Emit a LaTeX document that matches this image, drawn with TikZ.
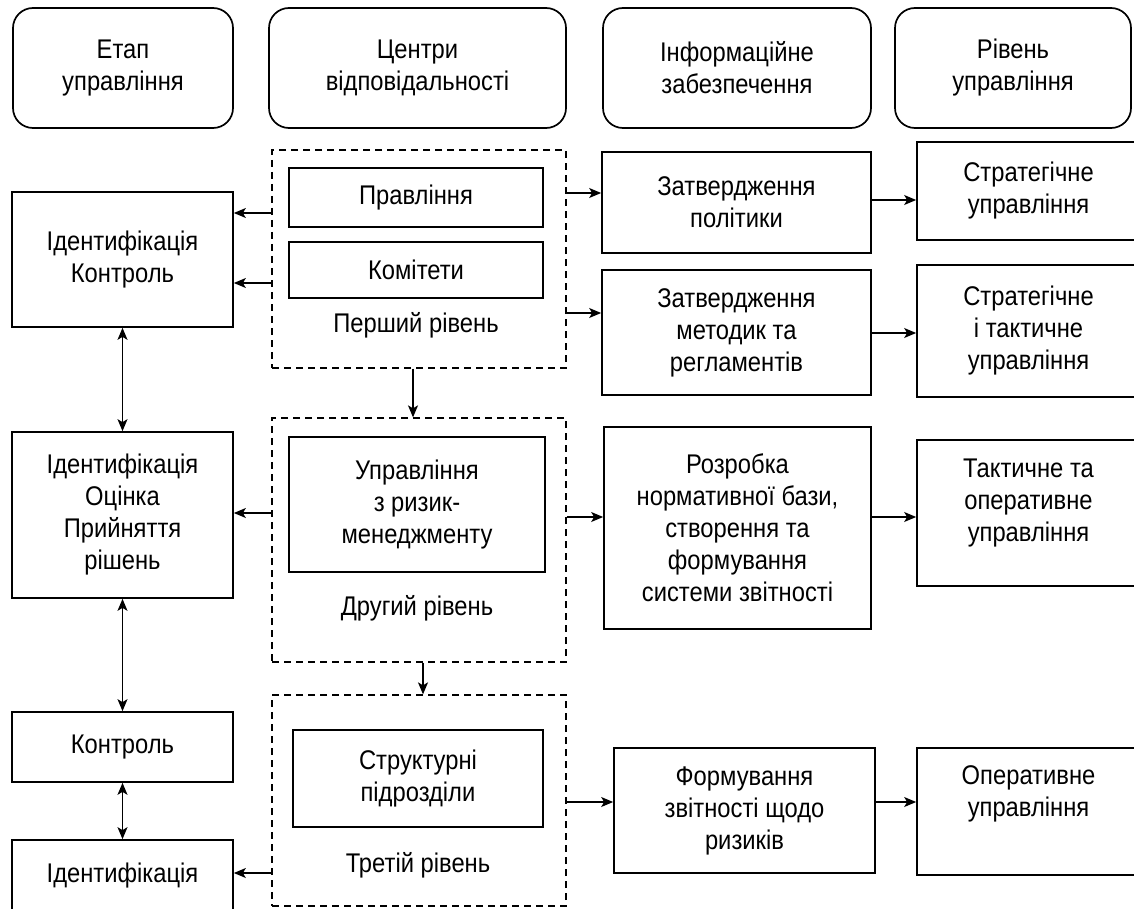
\documentclass[tikz,border=0pt]{standalone}
\usepackage{fontspec}
\setmainfont{Liberation Sans}[FakeStretch=0.88]
\usetikzlibrary{arrows.meta}
\begin{document}
\begin{tikzpicture}[x=1pt,y=-1pt,
  every node/.style={font=\fontsize{27}{32}\selectfont, align=center, inner sep=0pt},
  hdr/.style={draw, line width=1.7pt, rounded corners=20pt},
  box/.style={draw, line width=1.7pt},
  grp/.style={draw, line width=1.3pt, dash pattern=on 7pt off 5pt},
  txt/.style={},
  arr/.style={-{Stealth[length=12pt,width=10pt,inset=3pt]}, line width=1.3pt},
  darr/.style={{Stealth[length=12pt,width=10pt,inset=3pt]}-{Stealth[length=12pt,width=10pt,inset=3pt]}, line width=1.3pt},
]
\useasboundingbox (0,0) rectangle (1134,909);
\fill[white] (0,0) rectangle (1134,909);
\clip (0,0) rectangle (1134,909);

% header
\node[hdr, minimum width=220pt, minimum height=120pt] (h1) at (123,68) {Етап\\управління};
\node[hdr, minimum width=297pt, minimum height=120pt] (h2) at (417.5,68) {Центри\\відповідальності};
\node[hdr, minimum width=268pt, minimum height=120pt] (h3) at (737,68) {Інформаційне\\забезпечення};
\node[hdr, minimum width=236pt, minimum height=120pt] (h4) at (1013,68) {Рівень\\управління};

% left column
\node[box, minimum width=221pt, minimum height=135pt] (l1) at (122.5,259.5) {Ідентифікація\\Контроль};
\node[box, minimum width=221pt, minimum height=166pt] (l2) at (122.5,515) {Ідентифікація\\Оцінка\\Прийняття\\рішень};
\node[box, minimum width=221pt, minimum height=70pt] (l3) at (122.5,747) {Контроль};
\node[box, minimum width=221pt, minimum height=72pt] (l4) at (122.5,876) {Ідентифікація};

% middle column
\node[grp, minimum width=294pt, minimum height=218pt] (d1) at (419,259) {};
\node[box, minimum width=254pt, minimum height=59pt] (p) at (416,197.5) {Правління};
\node[box, minimum width=254pt, minimum height=56pt] (k) at (416,270) {Комітети};
\node[txt] (t1) at (416,325) {Перший рівень};

\node[grp, minimum width=294pt, minimum height=244pt] (d2) at (419,540) {};
\node[box, minimum width=256pt, minimum height=135pt] (u) at (417,504.5) {Управління\\з ризик-\\менеджменту};
\node[txt] (t2) at (417,608) {Другий рівень};

\node[grp, minimum width=294pt, minimum height=211pt] (d3) at (419,800.5) {};
\node[box, minimum width=250pt, minimum height=97pt] (s) at (418,778.5) {Структурні\\підрозділи};
\node[txt] (t3) at (418,865) {Третій рівень};

% right column 1
\node[box, minimum width=269pt, minimum height=101pt] (ra1) at (736.5,202.5) {Затвердження\\політики};
\node[box, minimum width=269pt, minimum height=125pt] (ra2) at (736.5,332.5) {Затвердження\\методик та\\регламентів};
\node[box, minimum width=267pt, minimum height=202pt] (ra3) at (737.5,528) {Розробка\\нормативної бази,\\створення та\\формування\\системи звітності};
\node[box, minimum width=261pt, minimum height=125pt] (ra4) at (744.5,810.5) {Формування\\звітності щодо\\ризиків};

% right column 2
\node[box, minimum width=223pt, minimum height=98pt] (rb1) at (1028.5,191) {Стратегічне\\управління};
\node[box, minimum width=223pt, minimum height=132pt] (rb2) at (1028.5,331) {Стратегічне\\і тактичне\\управління};
\node[box, minimum width=223pt, minimum height=146pt] (rb3) at (1028.5,513) {};
\node[txt] (rb3t) at (1028.5,503) {Тактичне та\\оперативне\\управління};
\node[box, minimum width=223pt, minimum height=127pt] (rb4) at (1028.5,811.5) {};
\node[txt] (rb4t) at (1028.5,794) {Оперативне\\управління};

% helper coordinates for connector heights
\coordinate (y193) at (0,193);
\coordinate (y200) at (0,200);
\coordinate (y213) at (0,213);
\coordinate (y283) at (0,283);
\coordinate (y313) at (0,313);
\coordinate (y333) at (0,333);
\coordinate (y513) at (0,513);
\coordinate (y517) at (0,517);
\coordinate (y802) at (0,802);
\coordinate (y873) at (0,873);

% to the left
\draw[arr] (d1.west |- y213) -- (l1.east |- y213);
\draw[arr] (d1.west |- y283) -- (l1.east |- y283);
\draw[arr] (d2.west |- y513) -- (l2.east |- y513);
\draw[arr] (d3.west |- y873) -- (l4.east |- y873);

% to the right
\draw[arr] (d1.east |- y193) -- (ra1.west |- y193);
\draw[arr] (d1.east |- y313) -- (ra2.west |- y313);
\draw[arr] (d2.east |- y517) -- (ra3.west |- y517);
\draw[arr] (d3.east |- y802) -- (ra4.west |- y802);

\draw[arr] (ra1.east |- y200) -- (rb1.west |- y200);
\draw[arr] (ra2.east |- y333) -- (rb2.west |- y333);
\draw[arr] (ra3.east |- y517) -- (rb3.west |- y517);
\draw[arr] (ra4.east |- y802) -- (rb4.west |- y802);

% vertical
\draw[darr] (l1.south) -- (l2.north);
\draw[darr] (l2.south) -- (l3.north);
\draw[darr] (l3.south) -- (l4.north);
\draw[arr] ([xshift=-6pt]d1.south) -- ([xshift=-6pt]d2.north);
\draw[arr] ([xshift=4pt]d2.south) -- ([xshift=4pt]d3.north);
\end{tikzpicture}
\end{document}
